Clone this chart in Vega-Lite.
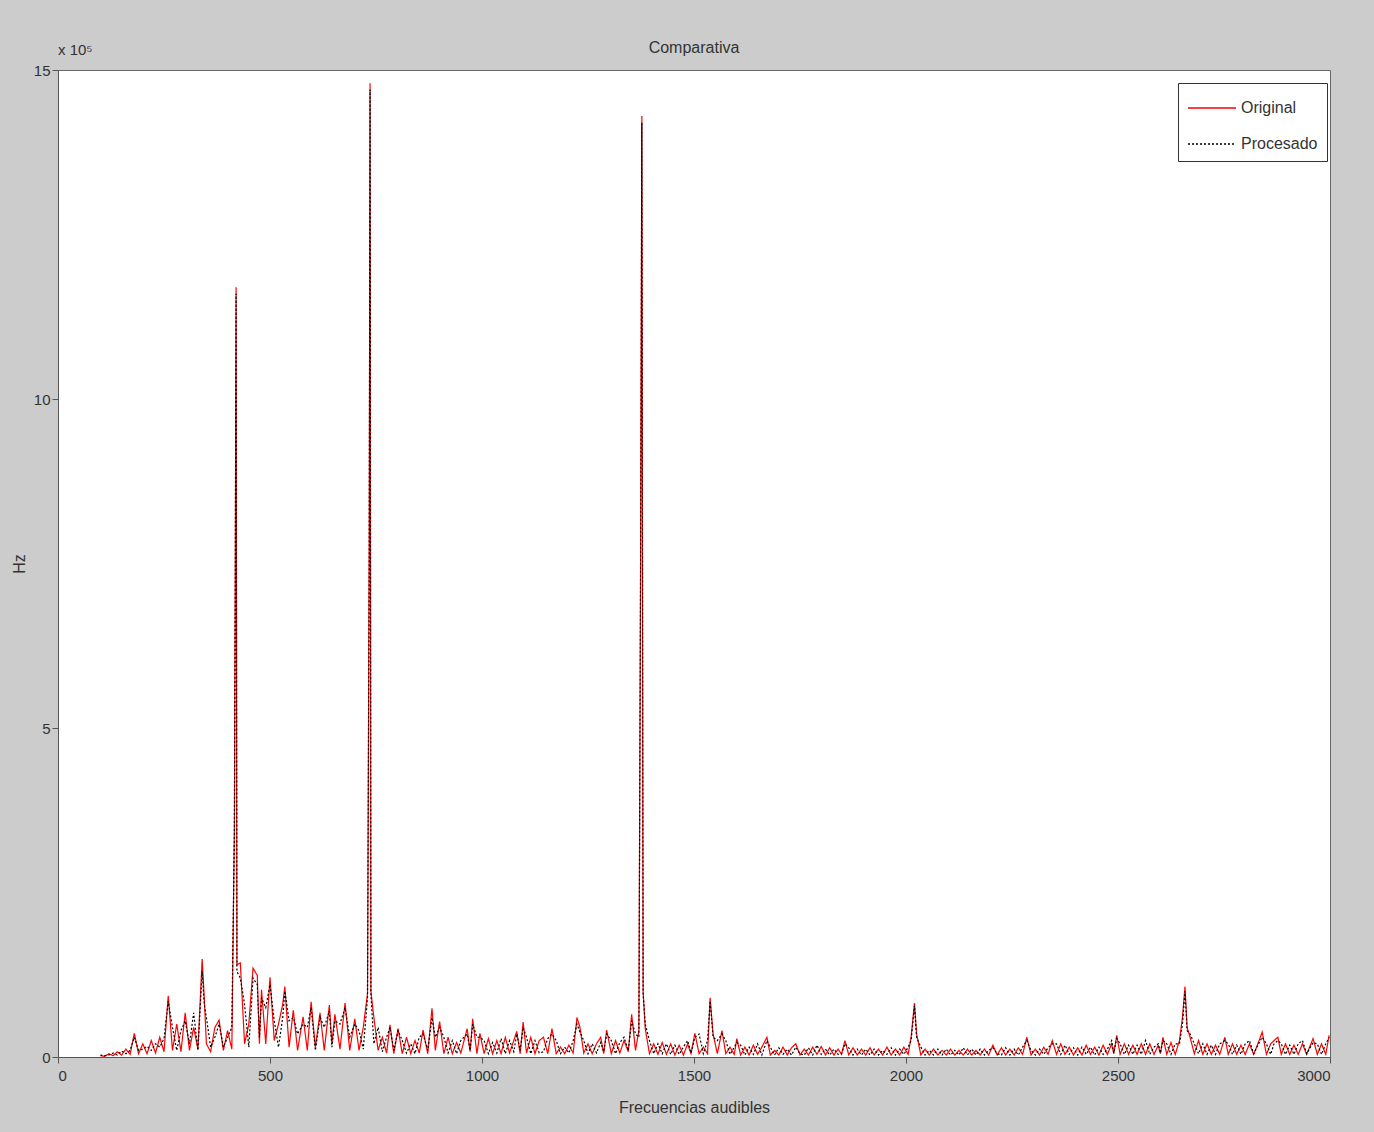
{
"$schema": "https://vega.github.io/schema/vega-lite/v6.json",
"width": 1272, "height": 987,
"autosize": "none",
"padding": {"left": 58, "top": 70, "right": 44, "bottom": 75},
"background": "#cccccc",
"config": {"view": {"fill": "white", "stroke": "#666", "strokeWidth": 1}, "font": "Liberation Sans"},
"title": {"text": "Comparativa", "fontSize": 16, "fontWeight": "normal", "color": "#333", "offset": -13, "frame": "group"},
"datasets": {"spec": [
{"f":100,"o":0.02,"p":0.03},{"f":110,"o":0.01,"p":0.02},{"f":120,"o":0.05,"p":0.03},{"f":130,"o":0.02,"p":0.06},{"f":140,"o":0.08,"p":0.03},
{"f":150,"o":0.03,"p":0.09},{"f":160,"o":0.12,"p":0.05},{"f":170,"o":0.04,"p":0.1},{"f":180,"o":0.36,"p":0.3},{"f":190,"o":0.05,"p":0.1},
{"f":200,"o":0.2,"p":0.12},{"f":210,"o":0.05,"p":0.16},{"f":220,"o":0.25,"p":0.1},{"f":230,"o":0.06,"p":0.2},{"f":240,"o":0.3,"p":0.15},
{"f":250,"o":0.08,"p":0.28},{"f":260,"o":0.93,"p":0.85},{"f":270,"o":0.1,"p":0.45},{"f":280,"o":0.5,"p":0.1},{"f":290,"o":0.08,"p":0.4},
{"f":300,"o":0.67,"p":0.55},{"f":310,"o":0.1,"p":0.2},{"f":320,"o":0.45,"p":0.67},{"f":330,"o":0.12,"p":0.1},{"f":340,"o":1.49,"p":1.3},
{"f":345,"o":0.89,"p":0.8},{"f":350,"o":0.2,"p":0.6},{"f":360,"o":0.08,"p":0.15},{"f":370,"o":0.45,"p":0.3},{"f":380,"o":0.56,"p":0.5},
{"f":390,"o":0.1,"p":0.15},{"f":400,"o":0.4,"p":0.3},{"f":410,"o":0.12,"p":0.45},{"f":416,"o":3.5,"p":3.4},{"f":418,"o":7.2,"p":7.0},
{"f":420,"o":11.7,"p":11.6},{"f":422,"o":1.4,"p":1.3},{"f":430,"o":1.43,"p":1.2},{"f":440,"o":0.2,"p":0.8},{"f":450,"o":0.5,"p":0.15},
{"f":460,"o":1.35,"p":1.2},{"f":470,"o":1.24,"p":1.1},{"f":475,"o":0.2,"p":0.3},{"f":480,"o":1.02,"p":0.9},{"f":490,"o":0.2,"p":0.75},
{"f":500,"o":1.21,"p":1.1},{"f":510,"o":0.25,"p":0.55},{"f":520,"o":0.5,"p":0.15},{"f":530,"o":0.8,"p":0.6},{"f":535,"o":1.07,"p":1.0},
{"f":545,"o":0.15,"p":0.55},{"f":555,"o":0.71,"p":0.6},{"f":565,"o":0.1,"p":0.35},{"f":578,"o":0.61,"p":0.5},{"f":588,"o":0.1,"p":0.45},
{"f":597,"o":0.84,"p":0.75},{"f":607,"o":0.15,"p":0.1},{"f":618,"o":0.67,"p":0.6},{"f":628,"o":0.1,"p":0.45},{"f":640,"o":0.79,"p":0.7},
{"f":646,"o":0.2,"p":0.15},{"f":653,"o":0.65,"p":0.55},{"f":665,"o":0.12,"p":0.5},{"f":677,"o":0.82,"p":0.75},{"f":688,"o":0.1,"p":0.3},
{"f":700,"o":0.58,"p":0.5},{"f":710,"o":0.1,"p":0.4},{"f":720,"o":0.45,"p":0.12},{"f":730,"o":0.97,"p":0.9},{"f":734,"o":7.8,"p":7.6},
{"f":736,"o":14.8,"p":14.7},{"f":738,"o":1.0,"p":0.95},{"f":745,"o":0.6,"p":0.2},{"f":755,"o":0.1,"p":0.45},{"f":765,"o":0.3,"p":0.08},
{"f":775,"o":0.06,"p":0.3},{"f":783,"o":0.49,"p":0.45},{"f":792,"o":0.05,"p":0.1},{"f":802,"o":0.43,"p":0.4},{"f":812,"o":0.05,"p":0.25},
{"f":822,"o":0.3,"p":0.06},{"f":832,"o":0.05,"p":0.2},{"f":842,"o":0.25,"p":0.05},{"f":852,"o":0.06,"p":0.3},{"f":861,"o":0.41,"p":0.35},
{"f":872,"o":0.05,"p":0.1},{"f":882,"o":0.74,"p":0.6},{"f":890,"o":0.1,"p":0.3},{"f":900,"o":0.54,"p":0.45},{"f":910,"o":0.05,"p":0.3},
{"f":920,"o":0.3,"p":0.06},{"f":930,"o":0.05,"p":0.25},{"f":940,"o":0.22,"p":0.05},{"f":950,"o":0.06,"p":0.25},{"f":965,"o":0.43,"p":0.35},
{"f":972,"o":0.08,"p":0.1},{"f":978,"o":0.58,"p":0.5},{"f":988,"o":0.05,"p":0.3},{"f":995,"o":0.36,"p":0.3},{"f":1005,"o":0.05,"p":0.25},
{"f":1015,"o":0.28,"p":0.05},{"f":1025,"o":0.05,"p":0.22},{"f":1035,"o":0.25,"p":0.06},{"f":1045,"o":0.05,"p":0.28},{"f":1055,"o":0.3,"p":0.05},
{"f":1065,"o":0.06,"p":0.25},{"f":1075,"o":0.25,"p":0.08},{"f":1082,"o":0.39,"p":0.35},{"f":1090,"o":0.05,"p":0.1},{"f":1097,"o":0.53,"p":0.45},
{"f":1105,"o":0.06,"p":0.3},{"f":1115,"o":0.3,"p":0.05},{"f":1125,"o":0.05,"p":0.25},{"f":1135,"o":0.25,"p":0.06},{"f":1145,"o":0.3,"p":0.08},
{"f":1155,"o":0.05,"p":0.28},{"f":1165,"o":0.43,"p":0.35},{"f":1175,"o":0.05,"p":0.25},{"f":1185,"o":0.15,"p":0.05},{"f":1195,"o":0.05,"p":0.15},
{"f":1205,"o":0.18,"p":0.06},{"f":1215,"o":0.06,"p":0.25},{"f":1224,"o":0.6,"p":0.5},{"f":1231,"o":0.45,"p":0.38},{"f":1240,"o":0.06,"p":0.25},
{"f":1250,"o":0.2,"p":0.05},{"f":1260,"o":0.05,"p":0.2},{"f":1270,"o":0.2,"p":0.06},{"f":1280,"o":0.3,"p":0.22},{"f":1287,"o":0.05,"p":0.08},
{"f":1294,"o":0.41,"p":0.35},{"f":1305,"o":0.05,"p":0.25},{"f":1315,"o":0.25,"p":0.05},{"f":1325,"o":0.06,"p":0.22},{"f":1335,"o":0.25,"p":0.3},
{"f":1345,"o":0.08,"p":0.1},{"f":1353,"o":0.65,"p":0.55},{"f":1362,"o":0.1,"p":0.35},{"f":1370,"o":0.4,"p":0.3},{"f":1374,"o":7.5,"p":7.3},
{"f":1377,"o":14.3,"p":14.2},{"f":1380,"o":1.0,"p":0.95},{"f":1385,"o":0.43,"p":0.5},{"f":1395,"o":0.05,"p":0.25},{"f":1405,"o":0.2,"p":0.05},
{"f":1415,"o":0.04,"p":0.2},{"f":1425,"o":0.22,"p":0.05},{"f":1435,"o":0.04,"p":0.2},{"f":1445,"o":0.2,"p":0.04},{"f":1455,"o":0.03,"p":0.18},
{"f":1465,"o":0.18,"p":0.04},{"f":1475,"o":0.03,"p":0.15},{"f":1485,"o":0.2,"p":0.25},{"f":1493,"o":0.05,"p":0.06},{"f":1502,"o":0.36,"p":0.3},
{"f":1512,"o":0.05,"p":0.35},{"f":1522,"o":0.15,"p":0.05},{"f":1532,"o":0.05,"p":0.25},{"f":1538,"o":0.9,"p":0.85},{"f":1545,"o":0.35,"p":0.3},
{"f":1555,"o":0.05,"p":0.25},{"f":1566,"o":0.4,"p":0.35},{"f":1575,"o":0.05,"p":0.25},{"f":1585,"o":0.15,"p":0.04},{"f":1595,"o":0.04,"p":0.15},
{"f":1601,"o":0.28,"p":0.22},{"f":1610,"o":0.03,"p":0.18},{"f":1620,"o":0.15,"p":0.03},{"f":1630,"o":0.03,"p":0.15},{"f":1640,"o":0.18,"p":0.04},
{"f":1650,"o":0.04,"p":0.2},{"f":1660,"o":0.15,"p":0.03},{"f":1672,"o":0.3,"p":0.25},{"f":1680,"o":0.03,"p":0.15},{"f":1690,"o":0.1,"p":0.03},
{"f":1700,"o":0.03,"p":0.14},{"f":1710,"o":0.15,"p":0.04},{"f":1720,"o":0.03,"p":0.12},{"f":1730,"o":0.14,"p":0.03},{"f":1740,"o":0.2,"p":0.15},
{"f":1750,"o":0.03,"p":0.05},{"f":1760,"o":0.12,"p":0.03},{"f":1770,"o":0.03,"p":0.14},{"f":1780,"o":0.15,"p":0.03},{"f":1790,"o":0.04,"p":0.18},
{"f":1800,"o":0.16,"p":0.04},{"f":1810,"o":0.03,"p":0.12},{"f":1820,"o":0.14,"p":0.03},{"f":1830,"o":0.03,"p":0.12},{"f":1840,"o":0.12,"p":0.04},
{"f":1848,"o":0.04,"p":0.05},{"f":1856,"o":0.25,"p":0.2},{"f":1865,"o":0.03,"p":0.14},{"f":1875,"o":0.14,"p":0.03},{"f":1885,"o":0.03,"p":0.12},
{"f":1895,"o":0.12,"p":0.03},{"f":1905,"o":0.03,"p":0.12},{"f":1915,"o":0.14,"p":0.03},{"f":1925,"o":0.03,"p":0.12},{"f":1935,"o":0.12,"p":0.03},
{"f":1945,"o":0.03,"p":0.1},{"f":1955,"o":0.15,"p":0.04},{"f":1965,"o":0.03,"p":0.14},{"f":1975,"o":0.12,"p":0.03},{"f":1985,"o":0.03,"p":0.12},
{"f":1995,"o":0.15,"p":0.04},{"f":2005,"o":0.04,"p":0.15},{"f":2012,"o":0.3,"p":0.25},{"f":2020,"o":0.82,"p":0.78},{"f":2025,"o":0.35,"p":0.3},
{"f":2035,"o":0.03,"p":0.15},{"f":2045,"o":0.12,"p":0.03},{"f":2055,"o":0.03,"p":0.1},{"f":2065,"o":0.12,"p":0.03},{"f":2075,"o":0.03,"p":0.12},
{"f":2085,"o":0.1,"p":0.03},{"f":2095,"o":0.03,"p":0.12},{"f":2105,"o":0.12,"p":0.03},{"f":2115,"o":0.03,"p":0.1},{"f":2125,"o":0.1,"p":0.03},
{"f":2135,"o":0.03,"p":0.14},{"f":2145,"o":0.12,"p":0.03},{"f":2155,"o":0.03,"p":0.12},{"f":2165,"o":0.1,"p":0.03},{"f":2175,"o":0.03,"p":0.12},
{"f":2185,"o":0.12,"p":0.03},{"f":2195,"o":0.03,"p":0.1},{"f":2205,"o":0.18,"p":0.14},{"f":2215,"o":0.03,"p":0.05},{"f":2225,"o":0.14,"p":0.03},
{"f":2235,"o":0.03,"p":0.14},{"f":2245,"o":0.12,"p":0.03},{"f":2255,"o":0.03,"p":0.12},{"f":2265,"o":0.14,"p":0.03},{"f":2275,"o":0.04,"p":0.15},
{"f":2285,"o":0.3,"p":0.25},{"f":2295,"o":0.03,"p":0.1},{"f":2305,"o":0.12,"p":0.03},{"f":2315,"o":0.03,"p":0.12},{"f":2325,"o":0.15,"p":0.04},
{"f":2335,"o":0.04,"p":0.14},{"f":2345,"o":0.25,"p":0.2},{"f":2355,"o":0.04,"p":0.2},{"f":2365,"o":0.2,"p":0.04},{"f":2375,"o":0.04,"p":0.18},
{"f":2385,"o":0.15,"p":0.04},{"f":2395,"o":0.03,"p":0.14},{"f":2405,"o":0.14,"p":0.03},{"f":2415,"o":0.03,"p":0.15},{"f":2425,"o":0.18,"p":0.04},
{"f":2435,"o":0.04,"p":0.15},{"f":2445,"o":0.15,"p":0.03},{"f":2455,"o":0.03,"p":0.15},{"f":2465,"o":0.18,"p":0.04},{"f":2475,"o":0.04,"p":0.12},
{"f":2485,"o":0.2,"p":0.25},{"f":2490,"o":0.05,"p":0.06},{"f":2497,"o":0.33,"p":0.28},{"f":2505,"o":0.04,"p":0.2},{"f":2515,"o":0.2,"p":0.04},
{"f":2525,"o":0.04,"p":0.18},{"f":2535,"o":0.18,"p":0.04},{"f":2545,"o":0.04,"p":0.18},{"f":2555,"o":0.2,"p":0.04},{"f":2565,"o":0.04,"p":0.25},
{"f":2575,"o":0.2,"p":0.04},{"f":2585,"o":0.04,"p":0.15},{"f":2595,"o":0.18,"p":0.2},{"f":2600,"o":0.05,"p":0.06},{"f":2606,"o":0.3,"p":0.25},
{"f":2615,"o":0.04,"p":0.2},{"f":2625,"o":0.22,"p":0.04},{"f":2635,"o":0.04,"p":0.2},{"f":2645,"o":0.25,"p":0.2},{"f":2652,"o":0.6,"p":0.5},
{"f":2658,"o":1.07,"p":1.0},{"f":2663,"o":0.45,"p":0.4},{"f":2670,"o":0.3,"p":0.35},{"f":2680,"o":0.05,"p":0.2},{"f":2690,"o":0.25,"p":0.05},
{"f":2700,"o":0.04,"p":0.2},{"f":2710,"o":0.2,"p":0.04},{"f":2720,"o":0.04,"p":0.18},{"f":2730,"o":0.18,"p":0.04},{"f":2740,"o":0.04,"p":0.2},
{"f":2752,"o":0.3,"p":0.25},{"f":2760,"o":0.04,"p":0.2},{"f":2770,"o":0.2,"p":0.04},{"f":2780,"o":0.04,"p":0.18},{"f":2790,"o":0.18,"p":0.04},
{"f":2800,"o":0.04,"p":0.2},{"f":2810,"o":0.2,"p":0.25},{"f":2820,"o":0.04,"p":0.05},{"f":2830,"o":0.2,"p":0.18},{"f":2840,"o":0.38,"p":0.3},
{"f":2850,"o":0.04,"p":0.2},{"f":2860,"o":0.2,"p":0.04},{"f":2868,"o":0.25,"p":0.2},{"f":2877,"o":0.3,"p":0.25},{"f":2885,"o":0.04,"p":0.2},
{"f":2895,"o":0.2,"p":0.04},{"f":2905,"o":0.04,"p":0.18},{"f":2915,"o":0.18,"p":0.04},{"f":2925,"o":0.04,"p":0.2},{"f":2935,"o":0.2,"p":0.25},
{"f":2945,"o":0.04,"p":0.05},{"f":2960,"o":0.28,"p":0.22},{"f":2970,"o":0.04,"p":0.2},{"f":2980,"o":0.2,"p":0.04},{"f":2990,"o":0.04,"p":0.2},
{"f":2998,"o":0.33,"p":0.3}
]},
"layer": [
{
"data": {"name": "spec"},
"transform": [{"fold": ["o", "p"], "as": ["k", "v"]}],
"mark": {"type": "line", "strokeWidth": 1.2, "clip": true},
"encoding": {
"x": {"field": "f", "type": "quantitative", "scale": {"domain": [0, 3000], "nice": false},
"axis": {"values": [0, 500, 1000, 1500, 2000, 2500, 3000], "format": "d", "grid": false, "title": "Frecuencias audibles", "titleFontSize": 16, "titleFontWeight": "normal", "titleColor": "#333", "titlePadding": 16, "labelFontSize": 15, "labelColor": "#333", "domainColor": "#555", "tickColor": "#555", "tickSize": 6, "labelPadding": 5}},
"y": {"field": "v", "type": "quantitative", "scale": {"domain": [0, 15], "nice": false},
"axis": {"values": [0, 5, 10, 15], "format": "d", "grid": false, "title": "Hz", "titleFontSize": 16, "titleFontWeight": "normal", "titleColor": "#333", "titlePadding": 6, "labelFontSize": 15, "labelColor": "#333", "domainColor": "#555", "tickColor": "#555", "tickSize": 6, "labelPadding": 2}},
"color": {"field": "k", "type": "nominal", "scale": {"domain": ["o", "p"], "range": ["#ff0000", "#000000"]},
"legend": {"orient": "none", "legendX": 1120, "legendY": 13, "title": null, "strokeColor": "#333", "fillColor": "white", "padding": 9, "labelFontSize": 16, "labelColor": "#333", "symbolType": "M-1,0H2.2", "symbolSize": 900, "symbolStrokeWidth": 1.5, "labelOffset": 22, "rowPadding": 12, "labelExpr": "datum.label == 'o' ? 'Original' : 'Procesado'"}},
"strokeDash": {"field": "k", "type": "nominal", "scale": {"domain": ["o", "p"], "range": [[1, 0], [2, 2]]},
"legend": {"orient": "none", "legendX": 1120, "legendY": 13, "title": null, "strokeColor": "#333", "fillColor": "white", "padding": 9, "labelFontSize": 16, "labelColor": "#333", "symbolType": "M-1,0H2.2", "symbolSize": 900, "symbolStrokeWidth": 1.5, "labelOffset": 22, "rowPadding": 12, "labelExpr": "datum.label == 'o' ? 'Original' : 'Procesado'"}}
}
},
{
"data": {"values": [{}]},
"mark": {"type": "text", "align": "left", "baseline": "bottom", "dy": -12, "dx": 0, "fontSize": 15, "color": "#333"},
"encoding": {"x": {"datum": 0}, "y": {"datum": 15}, "text": {"value": "x 10⁵"}}
}
]
}
